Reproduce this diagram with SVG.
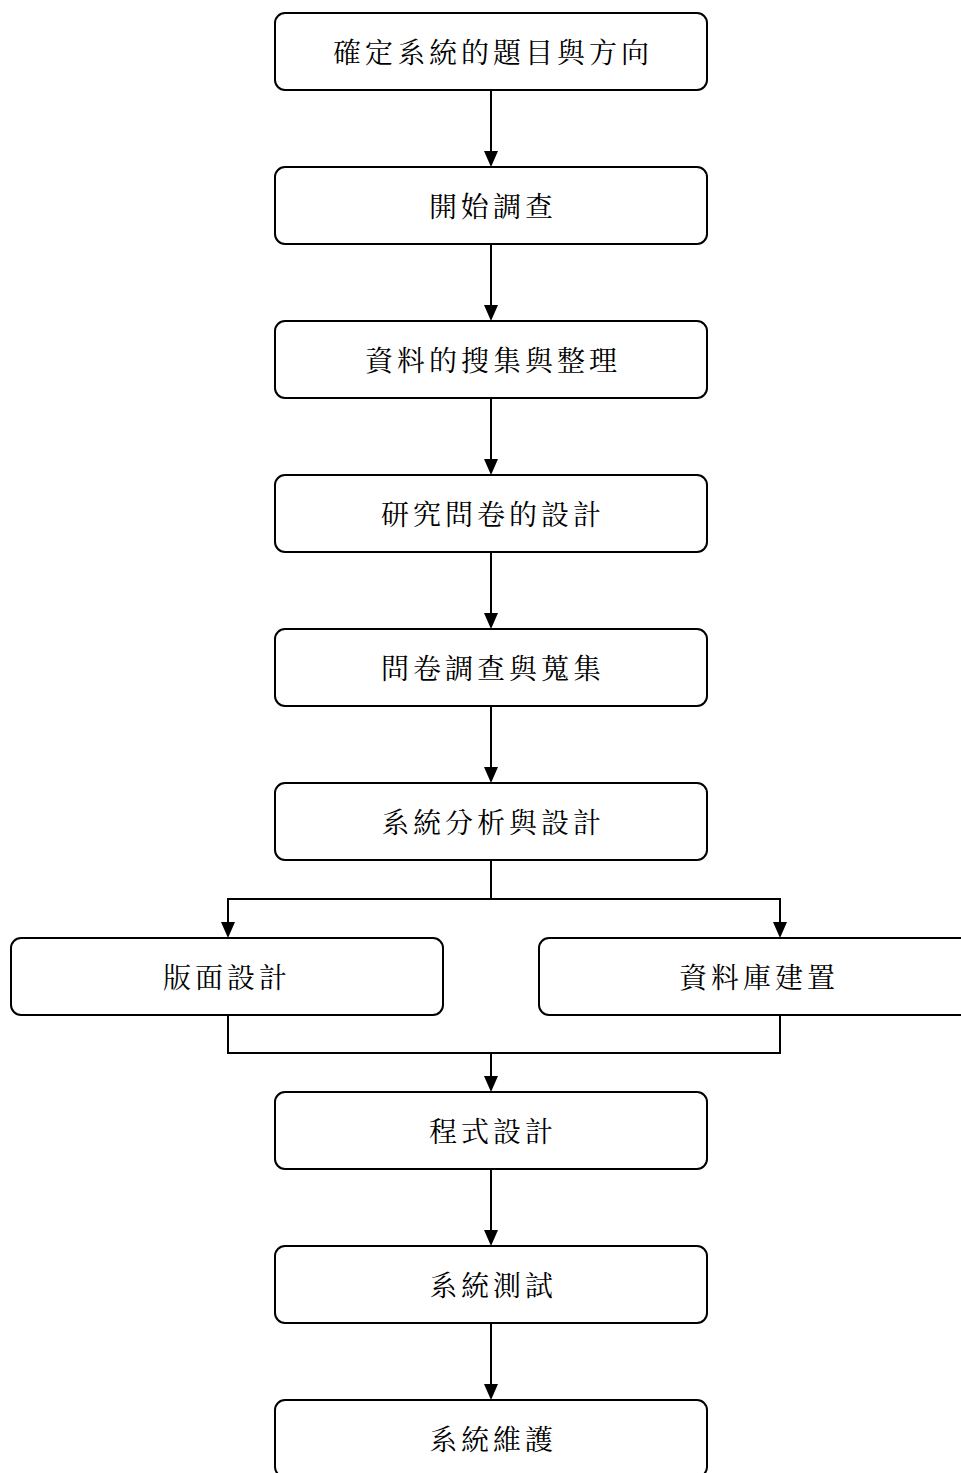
<svg xmlns="http://www.w3.org/2000/svg" width="961" height="1473" viewBox="0 0 961 1473">
<style>
.box{fill:#fff;stroke:#000;stroke-width:2}
.t{font-family:"Noto Serif CJK TC","Noto Sans CJK TC","Liberation Serif",serif;font-size:28px;fill:#000;text-anchor:middle;dominant-baseline:central;letter-spacing:4px}
.c{fill:none;stroke:#000;stroke-width:2}
</style>
<rect width="961" height="1473" fill="#fff"/>
<g id="connectors">
<line class="c" x1="491" y1="90" x2="491" y2="152"/>
<line class="c" x1="491" y1="244" x2="491" y2="306"/>
<line class="c" x1="491" y1="398" x2="491" y2="460"/>
<line class="c" x1="491" y1="552" x2="491" y2="614"/>
<line class="c" x1="491" y1="706" x2="491" y2="768"/>
<polyline class="c" points="491,860 491,899"/>
<polyline class="c" points="228,923 228,899 780,899 780,923"/>
<polyline class="c" points="228,1015 228,1053 780,1053 780,1015"/>
<line class="c" x1="491" y1="1053" x2="491" y2="1077"/>
<line class="c" x1="491" y1="1169" x2="491" y2="1231"/>
<line class="c" x1="491" y1="1323" x2="491" y2="1385"/>
<g fill="#000">
<path d="M484,151 L498,151 L491,167 Z"/>
<path d="M484,305 L498,305 L491,321 Z"/>
<path d="M484,459 L498,459 L491,475 Z"/>
<path d="M484,613 L498,613 L491,629 Z"/>
<path d="M484,767 L498,767 L491,783 Z"/>
<path d="M221,922 L235,922 L228,938 Z"/>
<path d="M773,922 L787,922 L780,938 Z"/>
<path d="M484,1076 L498,1076 L491,1092 Z"/>
<path d="M484,1230 L498,1230 L491,1246 Z"/>
<path d="M484,1384 L498,1384 L491,1400 Z"/>
</g>
</g>
<g id="n1"><rect class="box" x="275" y="13" width="432" height="77" rx="10"/><text class="t" x="493" y="51">確定系統的題目與方向</text></g>
<g id="n2"><rect class="box" x="275" y="167" width="432" height="77" rx="10"/><text class="t" x="493" y="205">開始調查</text></g>
<g id="n3"><rect class="box" x="275" y="321" width="432" height="77" rx="10"/><text class="t" x="493" y="359">資料的搜集與整理</text></g>
<g id="n4"><rect class="box" x="275" y="475" width="432" height="77" rx="10"/><text class="t" x="493" y="513">研究問卷的設計</text></g>
<g id="n5"><rect class="box" x="275" y="629" width="432" height="77" rx="10"/><text class="t" x="493" y="667">問卷調查與蒐集</text></g>
<g id="n6"><rect class="box" x="275" y="783" width="432" height="77" rx="10"/><text class="t" x="493" y="821">系統分析與設計</text></g>
<g id="n7"><rect class="box" x="11" y="938" width="432" height="77" rx="10"/><text class="t" x="227" y="976">版面設計</text></g>
<g id="n8"><rect class="box" x="539" y="938" width="432" height="77" rx="10"/><text class="t" x="759" y="976">資料庫建置</text></g>
<g id="n9"><rect class="box" x="275" y="1092" width="432" height="77" rx="10"/><text class="t" x="493" y="1130">程式設計</text></g>
<g id="n10"><rect class="box" x="275" y="1246" width="432" height="77" rx="10"/><text class="t" x="493" y="1284">系統測試</text></g>
<g id="n11"><rect class="box" x="275" y="1400" width="432" height="77" rx="10"/><text class="t" x="493" y="1438">系統維護</text></g>
</svg>
